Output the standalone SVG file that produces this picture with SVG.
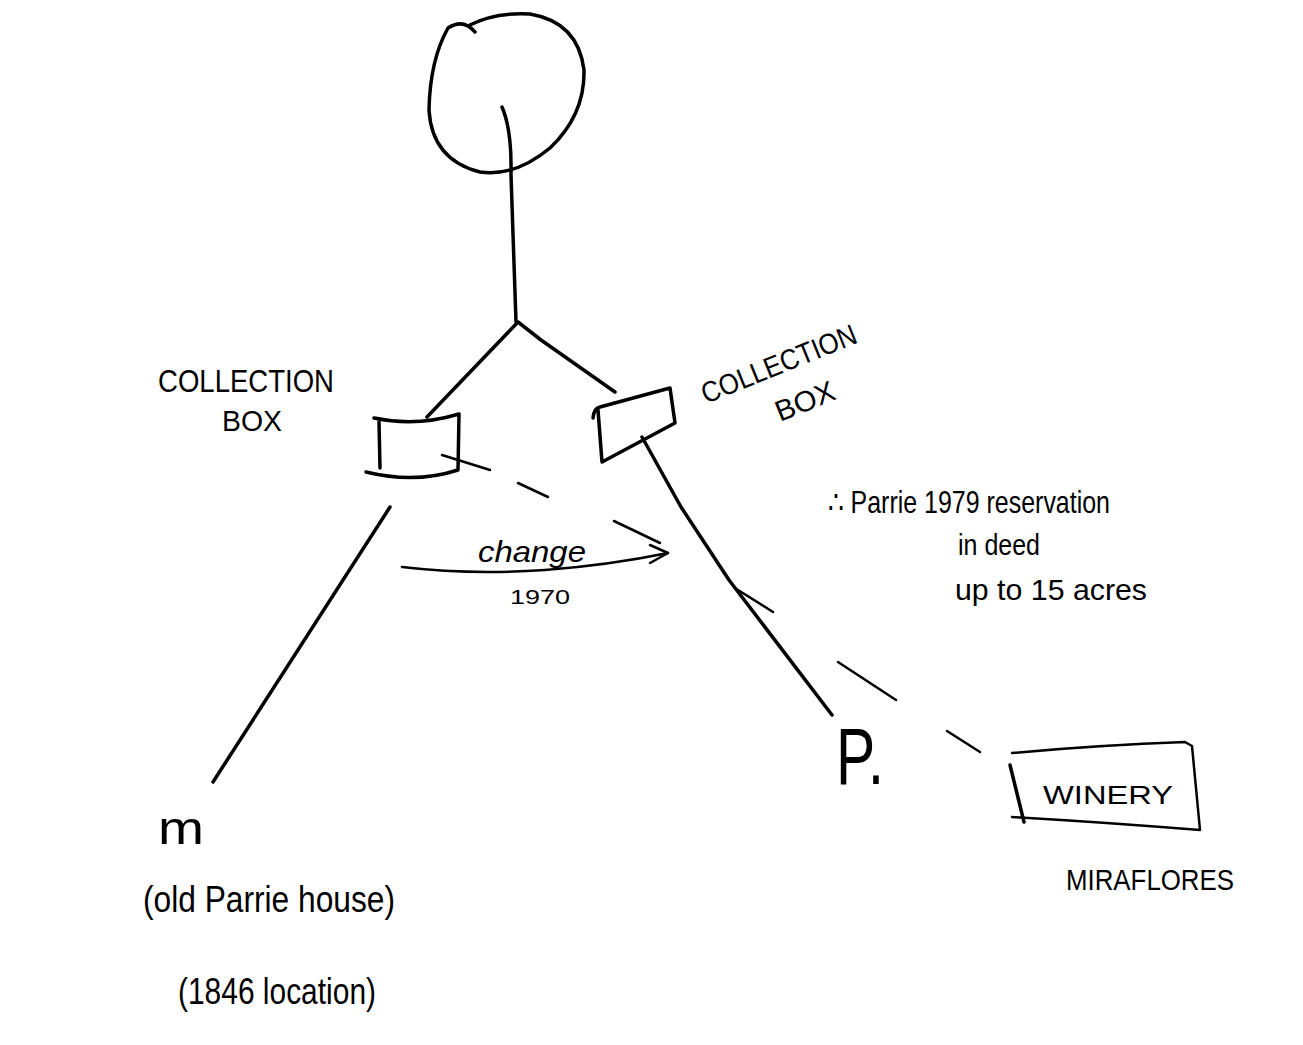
<svg xmlns="http://www.w3.org/2000/svg" width="1303" height="1045" viewBox="0 0 1303 1045">
<style>
.ln{fill:none;stroke:#000;stroke-width:3.5;stroke-linecap:round;stroke-linejoin:round}
.th{fill:none;stroke:#000;stroke-width:2.5;stroke-linecap:round;stroke-linejoin:round}
.t{font-family:"Liberation Sans",Arial,sans-serif;fill:#000}
</style>
<rect width="1303" height="1045" fill="#fff"/>
<g id="connectors">
<path class="ln" d="M502,107 Q512,130 511,175 L516,322"/>
<path class="ln" d="M427,417 L518,322 L541,340 L615,392"/>
<path class="ln" d="M642,437 L681,507 L729,580 L832,715"/>
<path class="ln" d="M390,507 L213,782"/>
<g class="th">
<line x1="442" y1="455" x2="490" y2="470"/>
<line x1="518" y1="483" x2="548" y2="497"/>
<line x1="614" y1="521" x2="660" y2="543"/>
<line x1="738" y1="590" x2="773" y2="612"/>
<line x1="838" y1="662" x2="896" y2="700"/>
<line x1="947" y1="731" x2="980" y2="752"/>
</g>
<path class="th" d="M402,567 Q470,575 545,570 Q610,565 668,553"/>
<path class="th" d="M650,545 L668,553 L650,563"/>
</g>
<g id="tree">
<path class="ln" d="M475,32 Q463,18 448,28 Q430,60 429,110 Q432,160 480,172 Q515,177 550,148 Q585,115 584,70 Q578,22 530,14 Q495,12 470,25"/>
</g>
<g id="box-left">
<path class="ln" d="M374,418 Q416,427 459,414 L458,470 Q415,484 366,472"/>
<path class="ln" d="M379,422 L380,468"/>
<text class="t" x="158" y="392" font-size="32" textLength="176" lengthAdjust="spacingAndGlyphs">COLLECTION</text>
<text class="t" x="222" y="431" font-size="30" textLength="60" lengthAdjust="spacingAndGlyphs">BOX</text>
</g>
<g id="box-right">
<path class="ln" d="M593,418 Q594,408 600,407 L670,388 L675,423 L602,462 L598,410"/>
<text class="t" transform="translate(706,404) rotate(-22)" font-size="29" textLength="165" lengthAdjust="spacingAndGlyphs">COLLECTION</text>
<text class="t" transform="translate(780,422) rotate(-22)" font-size="29" textLength="62" lengthAdjust="spacingAndGlyphs">BOX</text>
</g>
<g id="change">
<text class="t" x="478" y="562" font-size="30" font-style="italic" textLength="108" lengthAdjust="spacingAndGlyphs">change</text>
<text class="t" x="510" y="604" font-size="20" textLength="60" lengthAdjust="spacingAndGlyphs">1970</text>
</g>
<g id="note">
<text class="t" x="828" y="513" font-size="32" textLength="282" lengthAdjust="spacingAndGlyphs">∴ Parrie 1979 reservation</text>
<text class="t" x="958" y="555" font-size="30" textLength="82" lengthAdjust="spacingAndGlyphs">in deed</text>
<text class="t" x="955" y="600" font-size="30" textLength="192" lengthAdjust="spacingAndGlyphs">up to 15 acres</text>
</g>
<g id="P">
<text class="t" x="836" y="784" font-size="80" textLength="48" lengthAdjust="spacingAndGlyphs">P.</text>
</g>
<g id="winery">
<path class="th" d="M1012,753 Q1100,745 1185,742 L1192,746 L1200,830 Q1100,822 1012,817"/>
<path class="ln" d="M1010,765 L1024,822"/>
<text class="t" x="1043" y="804" font-size="26" textLength="130" lengthAdjust="spacingAndGlyphs">WINERY</text>
<text class="t" x="1066" y="890" font-size="30" textLength="168" lengthAdjust="spacingAndGlyphs">MIRAFLORES</text>
</g>
<g id="M">
<text class="t" x="158" y="844" font-size="46" textLength="46" lengthAdjust="spacingAndGlyphs">m</text>
<text class="t" x="143" y="912" font-size="36" textLength="252" lengthAdjust="spacingAndGlyphs">(old Parrie house)</text>
<text class="t" x="178" y="1004" font-size="36" textLength="198" lengthAdjust="spacingAndGlyphs">(1846 location)</text>
</g>
</svg>
